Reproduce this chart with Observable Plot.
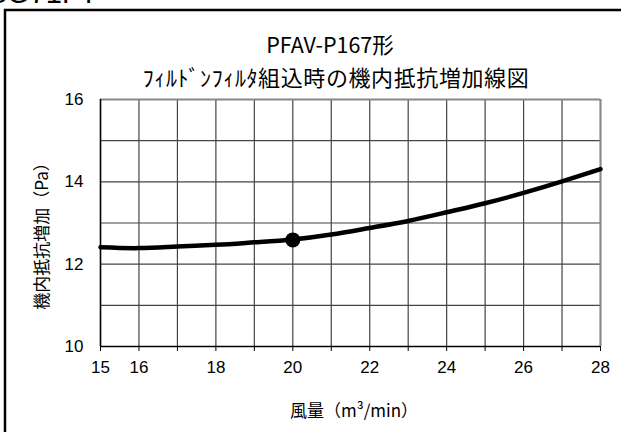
<!DOCTYPE html>
<html>
<head>
<meta charset="utf-8">
<script src="https://cdn.jsdelivr.net/npm/d3@7"></script>
<script src="https://cdn.jsdelivr.net/npm/@observablehq/plot@0.6"></script>
<style>
  html, body { margin: 0; padding: 0; background: #fff; }
  svg { display: block; }
</style>
</head>
<body>
<div id="chart"></div>
<script>
// ---- data ----
const headerText = "PAC-SG71FT";
const titleLine1 = "PFAV-P167形";
const titleLine2 = "ﾌｨﾙﾄﾞﾝﾌｨﾙﾀ組込時の機内抵抗増加線図";
const xLabel = "風量（m³/min）";
const yLabel = "機内抵抗増加（Pa）";

const flow = [15, 16, 17, 18, 19, 20, 21, 22, 23, 24, 25, 26, 27, 28];
const resistance = [12.41, 12.39, 12.43, 12.47, 12.53, 12.60, 12.72, 12.88, 13.05, 13.26, 13.48, 13.73, 14.01, 14.31];

const ratedFlow = [20];
const ratedResistance = [12.59];

const xGrid = [15, 16, 17, 18, 19, 20, 21, 22, 23, 24, 25, 26, 27, 28];
const xTickLabels = [15, 16, 18, 20, 22, 24, 26, 28];
const yGrid = [10, 11, 12, 13, 14, 15, 16];
const yTickLabels = [10, 12, 14, 16];

// ---- build ----
const curve = flow.map((x, i) => ({x, y: resistance[i]}));
const rated = ratedFlow.map((x, i) => ({x, y: ratedResistance[i]}));

const W = 621, H = 432;
const latin = "'Liberation Sans', Arial, sans-serif";
const plot = Plot.plot({
  width: W,
  height: H,
  marginLeft: 100,
  marginRight: 21,
  marginTop: 99,
  marginBottom: 86,
  style: {fontFamily: latin, fontSize: "17px", color: "#000", background: "#fff"},
  x: {domain: [15, 28]},
  y: {domain: [10, 16]},
  marks: [
    Plot.ruleX(xGrid, {stroke: "#444", strokeWidth: 1.2}),
    Plot.ruleY(yGrid, {stroke: "#444", strokeWidth: 1.2}),
    Plot.ruleX([28], {stroke: "#888", strokeWidth: 2}),
    Plot.ruleY([16], {stroke: "#888", strokeWidth: 2}),
    Plot.ruleX([15], {stroke: "#000", strokeWidth: 1.5}),
    Plot.ruleY([10], {stroke: "#000", strokeWidth: 1.5}),
    Plot.axisX({ticks: xGrid, tickSize: 5, tickPadding: 9, label: null, fontSize: 17,
      tickFormat: d => xTickLabels.includes(d) ? String(d) : "", stroke: "#000"}),
    Plot.axisY({ticks: yTickLabels, tickSize: 0, tickPadding: 17, label: null, fontSize: 17,
      tickFormat: d => String(d)}),
    Plot.line(curve, {x: "x", y: "y", curve: "natural", stroke: "#000", strokeWidth: 4.5}),
    Plot.dot(rated, {x: "x", y: "y", r: 7.5, fill: "#000", stroke: "none"})
  ]
});

const svg = d3.select(plot);
// outer frame (extends past the picture on right and bottom)
svg.append("rect")
  .attr("x", 5).attr("y", 10).attr("width", W + 20).attr("height", H + 20)
  .attr("fill", "none").attr("stroke", "#000").attr("stroke-width", 2.5);

// cut-off header above the frame
svg.append("text")
  .attr("x", 9).attr("y", 3)
  .attr("font-family", latin)
  .attr("font-size", 29)
  .text(headerText);

const cjk = "'Noto Sans CJK JP', 'Noto Sans', sans-serif";
svg.append("text")
  .attr("x", 330).attr("y", 53).attr("text-anchor", "middle")
  .attr("font-family", cjk).attr("font-size", 21.5)
  .text(titleLine1);
svg.append("text")
  .attr("x", 336).attr("y", 86).attr("text-anchor", "middle")
  .attr("font-family", cjk).attr("font-size", 22).attr("letter-spacing", 0.6)
  .text(titleLine2);
svg.append("text")
  .attr("x", 354).attr("y", 417).attr("text-anchor", "middle")
  .attr("font-family", cjk).attr("font-size", 17)
  .text(xLabel);
svg.append("text")
  .attr("transform", "translate(48,232) rotate(-90)").attr("text-anchor", "middle")
  .attr("font-family", cjk).attr("font-size", 17)
  .text(yLabel);

document.getElementById("chart").appendChild(plot);
</script>
</body>
</html>
